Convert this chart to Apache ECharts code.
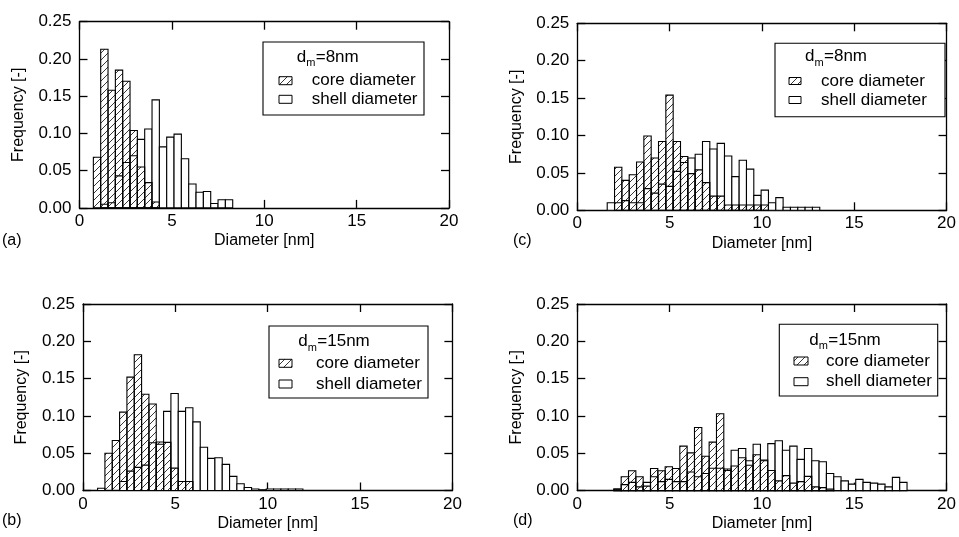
<!DOCTYPE html>
<html><head><meta charset="utf-8">
<script src="https://cdn.jsdelivr.net/npm/echarts@6/dist/echarts.min.js"></script>
<style>html,body{margin:0;padding:0;background:#fff}#c{width:959px;height:537px}</style>
</head><body><div id="c"></div>
<script>
// ---- data ----
const binWidth = 0.397;
const startA = 0.75, startB = 0.79, startC = 1.62, startD = 1.98;
const coreA  = [0.068,0.213,0.158,0.185,0.170,0.104,0.055,0.034,0.008,0,0,0,0,0,0,0,0,0,0];
const shellA = [0,0.005,0.007,0.043,0.061,0.070,0.092,0.106,0.145,0.082,0.095,0.099,0.066,0.032,0.021,0.022,0.006,0.011,0.011];
const coreB  = [0,0.050,0.067,0.105,0.152,0.182,0.129,0.116,0.065,0.0645,0.030,0.012,0.012,0,0,0,0,0,0,0,0];
const shellB = [0.003,0,0,0.012,0.026,0.031,0.034,0.064,0.062,0.106,0.130,0.106,0.111,0.092,0.058,0.043,0.044,0.035,0.019,0.009,0.004,0.002,0.001,0.002,0.002,0.002,0.002,0.002];
const coreC  = [0,0.0575,0.040,0.0476,0.0646,0.0993,0.070,0.092,0.154,0.092,0.072,0.049,0.054,0.037,0.019,0.019,0.007,0.007,0.007,0.007,0.007,0.007,0,0,0,0,0,0,0];
const shellC = [0.010,0.010,0.013,0.010,0.010,0.029,0.023,0.035,0.032,0.052,0.064,0.070,0.075,0.092,0.082,0.0895,0.0726,0.045,0.067,0.055,0.020,0.027,0.010,0.017,0.004,0.004,0.004,0.004,0.004];
const coreD  = [0.002,0.0185,0.0265,0.0185,0.006,0.0297,0.0265,0.032,0.0297,0.0596,0.0506,0.0846,0.046,0.065,0.103,0.029,0.033,0.044,0.034,0.048,0.041,0.027,0.013,0.020,0.010,0.012,0.019,0.005,0.004,0.002,0,0,0,0,0,0,0,0,0,0];
const shellD = [0.002,0.008,0.011,0.005,0.011,0.0185,0.012,0.015,0.012,0.012,0.025,0.0185,0.023,0.030,0.030,0.027,0.054,0.0565,0.040,0.062,0.040,0.063,0.0667,0.054,0.0596,0.0418,0.0565,0.040,0.0386,0.023,0.0185,0.013,0.0087,0.015,0.011,0.010,0.0087,0.005,0.0177,0.011];
const xTicks = [0,5,10,15,20];
const yTicks = [0,0.05,0.10,0.15,0.20,0.25];
const panelLabels = ['(a)','(b)','(c)','(d)'];
const legendTitles = ['8nm','15nm','8nm','15nm'];
const seriesNames = ['core diameter','shell diameter'];

// ---- hatch pattern ----
function makeHatch(){
  const s = 7, cv = document.createElement('canvas');
  cv.width = s; cv.height = s;
  const ctx = cv.getContext('2d');
  ctx.strokeStyle = '#222'; ctx.lineWidth = 0.9;
  ctx.beginPath();
  ctx.moveTo(0, s); ctx.lineTo(s, 0);
  ctx.moveTo(-1, 1); ctx.lineTo(1, -1);
  ctx.moveTo(s-1, s+1); ctx.lineTo(s+1, s-1);
  ctx.stroke();
  return cv;
}
const hatch = {image: makeHatch(), repeat: 'repeat'};

function toBins(start, vals){
  return vals.map((v,i)=>[start + i*binWidth, start + (i+1)*binWidth, v]);
}
function makeRender(isCore){
  return function(params, api){
    const v = api.value(2);
    if (!v) return null;
    const p0 = api.coord([api.value(0), v]);
    const p1 = api.coord([api.value(1), 0]);
    return {type:'rect', shape:{x:p0[0], y:p0[1], width:p1[0]-p0[0], height:p1[1]-p0[1]},
      style:{fill: isCore ? hatch : '#fff', stroke:'#000', lineWidth:1.1}};
  };
}

const FONT = '"Liberation Sans", Arial, sans-serif';
const grids = [
  {left:79.5, top:21.7, width:369.5, height:186.2},
  {left:83,   top:304,  width:369.4, height:186.5},
  {left:577.3,top:23.3, width:370.6, height:187},
  {left:577.3,top:304,  width:370.6, height:186.6}
];
const panels = [[startA,coreA,shellA],[startB,coreB,shellB],[startC,coreC,shellC],[startD,coreD,shellD]];

const xAxis = [], yAxis = [], series = [], title = [], graphic = [];
const lineStyle = {color:'#000', width:1.3};
grids.forEach((g,i)=>{
  xAxis.push({type:'value', gridIndex:i, min:xTicks[0], max:xTicks[xTicks.length-1], interval:5, position:'bottom',
    axisLine:{show:true, onZero:false, lineStyle}, axisTick:{inside:true, length:8, lineStyle},
    axisLabel:{color:'#000', fontSize:17, fontFamily:FONT, margin:5}, splitLine:{show:false},
    name:'Diameter [nm]', nameLocation:'middle', nameGap:25, nameTextStyle:{color:'#000', fontSize:16, fontFamily:FONT}});
  xAxis.push({type:'value', gridIndex:i, min:0, max:20, interval:5, position:'top',
    axisLine:{show:true, onZero:false, lineStyle}, axisTick:{inside:true, length:8, lineStyle},
    axisLabel:{show:false}, splitLine:{show:false}});
  yAxis.push({type:'value', gridIndex:i, min:yTicks[0], max:yTicks[yTicks.length-1], interval:0.05, position:'left',
    axisLine:{show:true, onZero:false, lineStyle}, axisTick:{inside:true, length:8, lineStyle},
    axisLabel:{color:'#000', fontSize:17, fontFamily:FONT, margin:8, formatter:v=>v.toFixed(2)}, splitLine:{show:false},
    name:'Frequency [-]', nameLocation:'middle', nameGap:53, nameTextStyle:{color:'#000', fontSize:16, fontFamily:FONT}});
  yAxis.push({type:'value', gridIndex:i, min:0, max:0.25, interval:0.05, position:'right',
    axisLine:{show:true, onZero:false, lineStyle}, axisTick:{inside:true, length:8, lineStyle},
    axisLabel:{show:false}, splitLine:{show:false}});
  const [st, core, shell] = panels[i];
  series.push({type:'custom', name:seriesNames[1], xAxisIndex:2*i, yAxisIndex:2*i, renderItem:makeRender(false),
    data:toBins(st, shell), encode:{x:[0,1], y:2}, z:2});
  series.push({type:'custom', name:seriesNames[0], xAxisIndex:2*i, yAxisIndex:2*i, renderItem:makeRender(true),
    data:toBins(st, core), encode:{x:[0,1], y:2}, z:3});
});

// panel labels
const labelPos = [[2,233],[2,513],[513,233],[513,513]];
panelLabels.forEach((t,i)=>title.push({text:t, left:labelPos[i][0], top:labelPos[i][1],
  textStyle:{fontSize:16, fontWeight:'normal', color:'#000', fontFamily:FONT}, padding:0}));

// legends
const legendGeo = [
  {x0:263, y0:42, x1:424, y1:115, tx:296.7, ty:57, sx:279, sw:13, sh:8, lx:311.7, r1:80.7, r2:99.3},
  {x0:269, y0:326, x1:428, y1:398, tx:298.3, ty:341.7, sx:279, sw:13, sh:8, lx:316, r1:363.3, r2:384},
  {x0:775, y0:43.3, x1:945, y1:116.7, tx:805, ty:56.7, sx:789, sw:12, sh:7, lx:821, r1:81, r2:100},
  {x0:779.3, y0:324.3, x1:937.7, y1:396, tx:809.3, ty:340, sx:794, sw:14, sh:8, lx:826, r1:361, r2:381.7}
];
legendGeo.forEach((L,i)=>{
  const fs = 17;
  graphic.push({type:'rect', shape:{x:L.x0, y:L.y0, width:L.x1-L.x0, height:L.y1-L.y0}, style:{fill:'#fff', stroke:'#000', lineWidth:1.1}, z:10});
  graphic.push({type:'text', x:L.tx, y:L.ty, style:{text:'d', fontSize:fs, fontFamily:FONT, fill:'#000', verticalAlign:'middle'}, z:11});
  graphic.push({type:'text', x:L.tx+9.5, y:L.ty+6, style:{text:'m', fontSize:11, fontFamily:FONT, fill:'#000', verticalAlign:'middle'}, z:11});
  graphic.push({type:'text', x:L.tx+19, y:L.ty, style:{text:'='+legendTitles[i], fontSize:fs, fontFamily:FONT, fill:'#000', verticalAlign:'middle'}, z:11});
  [[L.r1, hatch, seriesNames[0]],[L.r2, '#fff', seriesNames[1]]].forEach(([ry, fill, name])=>{
    graphic.push({type:'rect', shape:{x:L.sx, y:ry-L.sh/2, width:L.sw, height:L.sh}, style:{fill, stroke:'#000', lineWidth:1}, z:11});
    graphic.push({type:'text', x:L.lx, y:ry, style:{text:name, fontSize:fs, fontFamily:FONT, fill:'#000', verticalAlign:'middle'}, z:11});
  });
});

const chart = echarts.init(document.getElementById('c'), null, {renderer:'canvas'});
chart.setOption({backgroundColor:'#fff', animation:false, grid:grids, xAxis, yAxis, series, title, graphic});
</script></body></html>
